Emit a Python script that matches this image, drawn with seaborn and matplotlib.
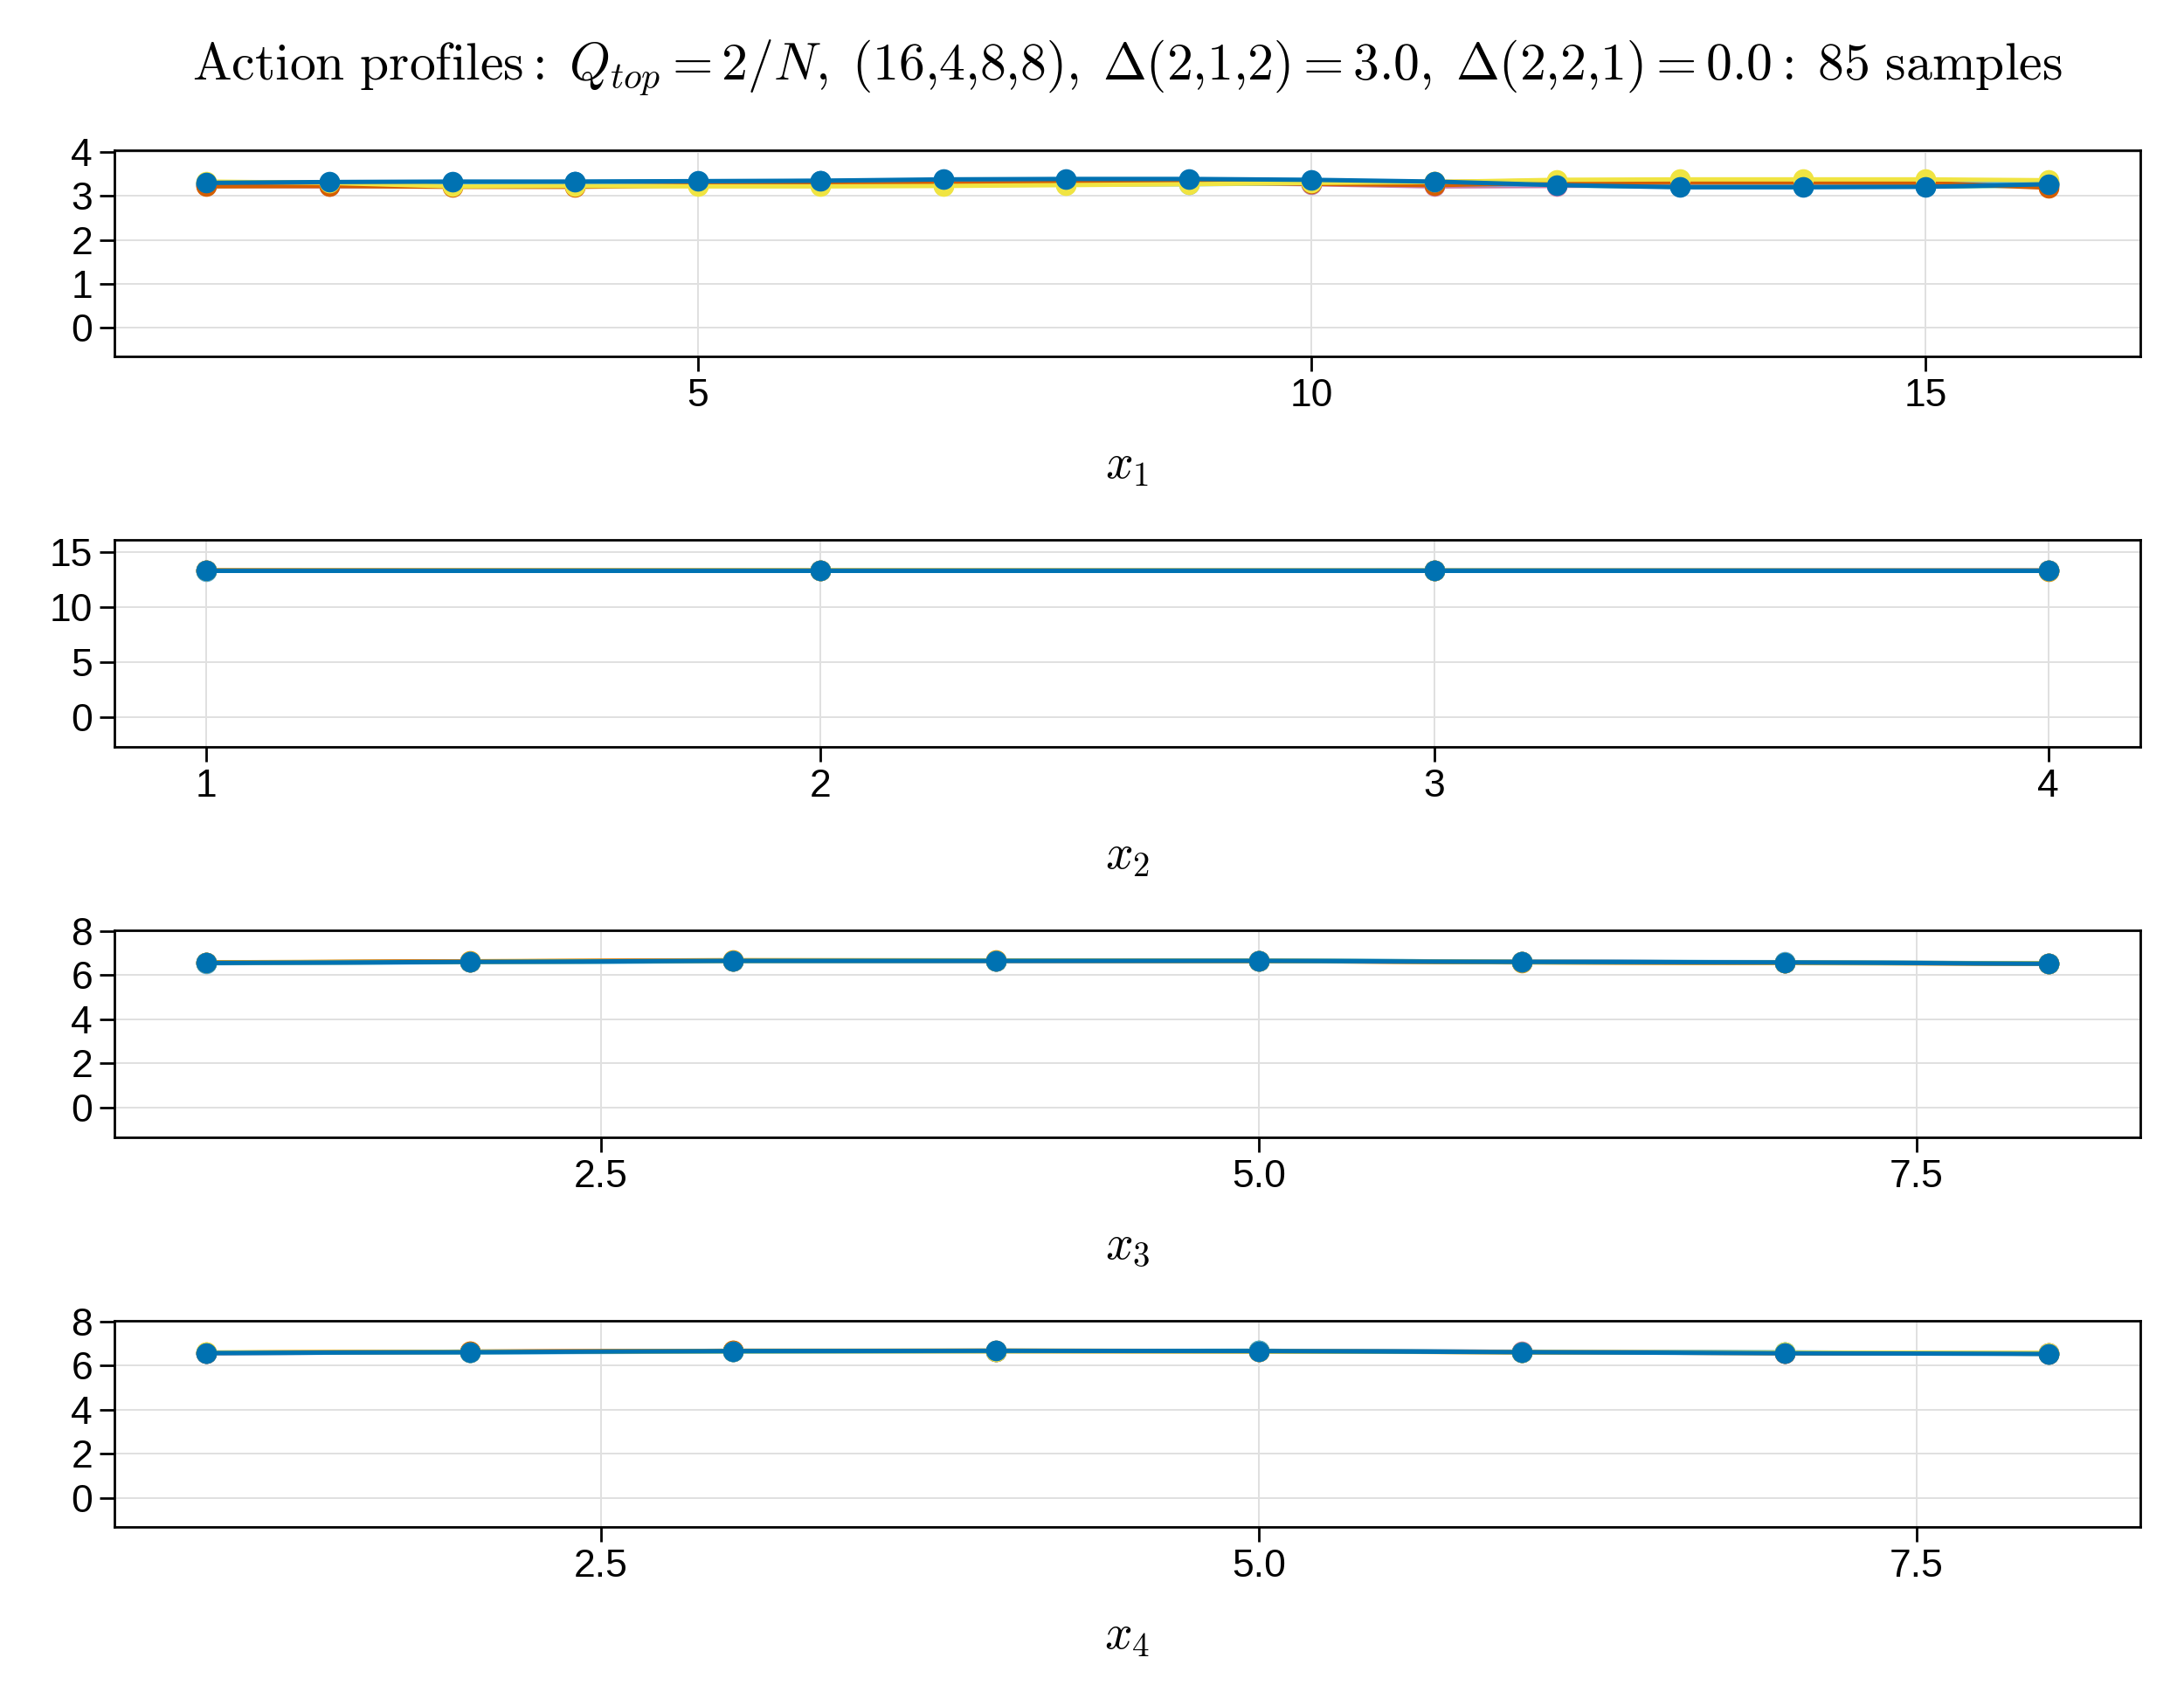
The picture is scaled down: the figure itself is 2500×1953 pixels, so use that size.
import numpy as np
import pandas as pd
import matplotlib
matplotlib.use("Agg")
import matplotlib.pyplot as plt
import seaborn as sns
from matplotlib.ticker import FixedLocator, FormatStrFormatter

sns.set_theme(style="white")
plt.rcParams['font.family'] = ['Liberation Sans', 'DejaVu Sans']
plt.rcParams['mathtext.fontset'] = 'cm'

# ---------------- data ----------------
title = (r"$\mathrm{Action\ profiles}:\;Q_{top} = 2/N,\;(16{,}4{,}8{,}8),\;"
         r"\Delta(2{,}1{,}2) = 3.0,\;\Delta(2{,}2{,}1) = 0.0:\;85\ \mathrm{samples}$")

x1 = list(range(1, 17))
x2 = list(range(1, 5))
x3 = list(range(1, 9))
x4 = list(range(1, 9))

# representative sample profiles (last one drawn on top)
p1 = [
    [3.28, 3.30, 3.31, 3.32, 3.33, 3.34, 3.36, 3.37, 3.37, 3.35, 3.31, 3.27, 3.24, 3.24, 3.25, 3.28],
    [3.31, 3.31, 3.30, 3.30, 3.31, 3.32, 3.33, 3.34, 3.34, 3.33, 3.32, 3.35, 3.34, 3.34, 3.33, 3.31],
    [3.27, 3.27, 3.26, 3.28, 3.29, 3.31, 3.33, 3.35, 3.35, 3.33, 3.30, 3.24, 3.22, 3.22, 3.22, 3.24],
    [3.24, 3.22, 3.24, 3.26, 3.27, 3.28, 3.29, 3.30, 3.30, 3.27, 3.22, 3.23, 3.26, 3.27, 3.27, 3.25],
    [3.25, 3.24, 3.25, 3.27, 3.28, 3.29, 3.25, 3.26, 3.27, 3.29, 3.26, 3.27, 3.28, 3.29, 3.29, 3.29],
    [3.22, 3.23, 3.21, 3.21, 3.24, 3.26, 3.28, 3.30, 3.31, 3.28, 3.25, 3.30, 3.31, 3.31, 3.30, 3.19],
    [3.33, 3.30, 3.22, 3.23, 3.22, 3.22, 3.23, 3.25, 3.27, 3.30, 3.32, 3.37, 3.38, 3.38, 3.38, 3.36],
    [3.30, 3.32, 3.33, 3.33, 3.34, 3.35, 3.38, 3.39, 3.39, 3.37, 3.33, 3.25, 3.20, 3.20, 3.21, 3.27],
]
p2 = [
    [13.34, 13.33, 13.33, 13.32],
    [13.35, 13.34, 13.32, 13.31],
    [13.32, 13.33, 13.34, 13.33],
    [13.33, 13.32, 13.33, 13.34],
    [13.31, 13.33, 13.34, 13.33],
    [13.34, 13.33, 13.32, 13.33],
    [13.33, 13.34, 13.33, 13.32],
    [13.33, 13.33, 13.33, 13.33],
]
p3 = [
    [6.57, 6.61, 6.64, 6.65, 6.64, 6.61, 6.57, 6.53],
    [6.58, 6.63, 6.68, 6.67, 6.65, 6.58, 6.55, 6.52],
    [6.56, 6.60, 6.64, 6.66, 6.66, 6.61, 6.58, 6.53],
    [6.55, 6.61, 6.65, 6.64, 6.64, 6.62, 6.57, 6.54],
    [6.54, 6.59, 6.63, 6.65, 6.66, 6.61, 6.59, 6.53],
    [6.57, 6.62, 6.66, 6.66, 6.64, 6.59, 6.56, 6.53],
    [6.56, 6.60, 6.65, 6.66, 6.65, 6.60, 6.57, 6.54],
    [6.55, 6.60, 6.65, 6.65, 6.65, 6.60, 6.58, 6.52],
]
p4 = [
    [6.57, 6.61, 6.64, 6.66, 6.64, 6.61, 6.57, 6.54],
    [6.58, 6.62, 6.66, 6.67, 6.65, 6.60, 6.56, 6.55],
    [6.56, 6.60, 6.64, 6.65, 6.66, 6.61, 6.58, 6.53],
    [6.55, 6.61, 6.65, 6.65, 6.64, 6.62, 6.57, 6.54],
    [6.56, 6.59, 6.63, 6.65, 6.66, 6.61, 6.59, 6.53],
    [6.57, 6.62, 6.66, 6.65, 6.64, 6.60, 6.56, 6.53],
    [6.58, 6.61, 6.64, 6.64, 6.63, 6.60, 6.58, 6.56],
    [6.56, 6.60, 6.65, 6.66, 6.65, 6.60, 6.55, 6.52],
]

xlabels = [r"$x_1$", r"$x_2$", r"$x_3$", r"$x_4$"]
xticks = [[5, 10, 15], [1, 2, 3, 4], [2.5, 5.0, 7.5], [2.5, 5.0, 7.5]]
yticks = [[0, 1, 2, 3, 4], [0, 5, 10, 15], [0, 2, 4, 6, 8], [0, 2, 4, 6, 8]]
ylims = [(-0.66, 4.05), (-2.70, 16.1), (-1.34, 8.03), (-1.34, 8.03)]

wong = ["#0072B2", "#E69F00", "#009E73", "#CC79A7", "#56B4E9", "#D55E00", "#F0E442"]

# ---------------- figure ----------------
W, H = 2500, 1953
fig = plt.figure(figsize=(W / 200, H / 200), dpi=200)

left_px, right_px = 131, 2450
top0_px, ax_h_px, step_px = 171.7, 236.6, 446.7

panels = [(x1, p1), (x2, p2), (x3, p3), (x4, p4)]
for k, (xs, prof) in enumerate(panels):
    top = top0_px + k * step_px
    ax = fig.add_axes([left_px / W, 1 - (top + ax_h_px) / H,
                       (right_px - left_px) / W, ax_h_px / H])
    rows = []
    for s, ys in enumerate(prof):
        for xv, yv in zip(xs, ys):
            rows.append({"x": xv, "y": yv, "sample": s})
    df = pd.DataFrame(rows)
    pal = [wong[i % len(wong)] for i in range(len(prof))]
    sns.lineplot(data=df, x="x", y="y", hue="sample", palette=pal,
                 estimator=None, sort=False, marker="o", markersize=8.5,
                 markeredgewidth=0, linewidth=1.8, legend=False, ax=ax,
                 zorder=3)
    span = xs[-1] - xs[0]
    ax.set_xlim(xs[0] - 0.05 * span, xs[-1] + 0.05 * span)
    ax.set_ylim(*ylims[k])
    ax.xaxis.set_major_locator(FixedLocator(xticks[k]))
    ax.yaxis.set_major_locator(FixedLocator(yticks[k]))
    if k >= 2:
        ax.xaxis.set_major_formatter(FormatStrFormatter("%.1f"))
    else:
        ax.xaxis.set_major_formatter(FormatStrFormatter("%d"))
    ax.grid(True, which="major", axis="both", color="#e0e0e0", alpha=1.0,
            linewidth=0.7, linestyle="-")
    ax.set_axisbelow(True)
    for sp in ax.spines.values():
        sp.set_color("black")
        sp.set_linewidth(1.0)
        sp.set_visible(True)
    ax.tick_params(axis="both", which="major", direction="out", length=6,
                   width=1.0, color="black", labelsize=16, labelcolor="black",
                   bottom=True, left=True, top=False, right=False, pad=3)
    ax.set_ylabel("")
    ax.set_xlabel(xlabels[k], fontsize=20, color="black", labelpad=12)

ax_center = (left_px + right_px) / 2 / W
fig.text(ax_center, 1 - 77 / H, title, ha="center", va="center", fontsize=21.5,
         color="black")

fig.savefig("out.png", dpi=200, facecolor="white")
